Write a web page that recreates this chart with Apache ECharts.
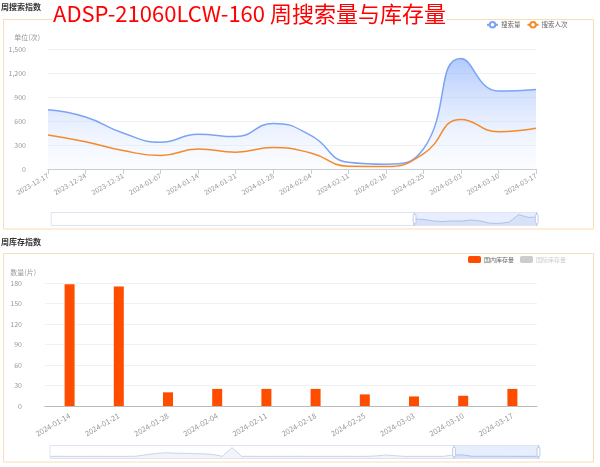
<!DOCTYPE html>
<html>
<head>
<meta charset="utf-8">
<title>ADSP-21060LCW-160 周搜索量与库存量</title>
<script src="https://cdn.jsdelivr.net/npm/echarts@6/dist/echarts.min.js"></script>
<style>
  html, body { margin: 0; padding: 0; background: #fff; }
  #main { width: 600px; height: 467px; }
</style>
</head>
<body>
<div id="main"></div>
<script>
// 周次（共52周，图上只显示最后一段）
var weeks = [
  '2023-03-26', '2023-04-02', '2023-04-09', '2023-04-16', '2023-04-23', '2023-04-30',
  '2023-05-07', '2023-05-14', '2023-05-21', '2023-05-28', '2023-06-04', '2023-06-11',
  '2023-06-18', '2023-06-25', '2023-07-02', '2023-07-09', '2023-07-16', '2023-07-23',
  '2023-07-30', '2023-08-06', '2023-08-13', '2023-08-20', '2023-08-27', '2023-09-03',
  '2023-09-10', '2023-09-17', '2023-09-24', '2023-10-01', '2023-10-08', '2023-10-15',
  '2023-10-22', '2023-10-29', '2023-11-05', '2023-11-12', '2023-11-19', '2023-11-26',
  '2023-12-03', '2023-12-10', '2023-12-17', '2023-12-24', '2023-12-31', '2024-01-07',
  '2024-01-14', '2024-01-21', '2024-01-28', '2024-02-04', '2024-02-11', '2024-02-18',
  '2024-02-25', '2024-03-03', '2024-03-10', '2024-03-17'
];

// 搜索量 / 搜索人次（2023-12-17 之前无数据）
var searchCount = [
  null, null, null, null, null, null, null, null, null, null, null, null, null,
  null, null, null, null, null, null, null, null, null, null, null, null, null,
  null, null, null, null, null, null, null, null, null, null, null, null,
  740, 650, 450, 335, 435, 405, 570, 420, 85, 60, 250, 1380, 975, 995
];
var searchUsers = [
  null, null, null, null, null, null, null, null, null, null, null, null, null,
  null, null, null, null, null, null, null, null, null, null, null, null, null,
  null, null, null, null, null, null, null, null, null, null, null, null,
  425, 340, 230, 170, 250, 210, 270, 200, 35, 30, 190, 620, 465, 508
];

// 国内库存量 / 国际库存量
var stockDomestic = [
  10, 12, 10, 8, 10, 12, 10, 9, 11, 30, 180, 330, 420, 380, 350, 320, 300, 220,
  20, 1000, 15, 12, 10, 11, 13, 10, 12, 10, 11, 12, 10, 13, 11, 12, 60, 170,
  80, 12, 10, 12, 10, 15,
  178, 175, 20, 25, 25, 25, 17, 14, 15, 25
];
var stockIntl = [];

var searchAxis = { min: 0, max: 1500, interval: 300 };
var stockAxis = { min: 0, max: 180, interval: 30 };

var FONT = "'Noto Sans CJK SC', 'Noto Sans', sans-serif";
var panelColor = '#fbdcb8';
var labelColor = '#999';

var myChart = echarts.init(document.getElementById('main'));

var option = {
    animation: false,
    backgroundColor: '#fff',
    textStyle: { fontFamily: FONT },
    graphic: [
        { type: 'rect', z: -1, shape: { x: 3.5, y: 19.5, width: 590, height: 209.5 },
          style: { fill: 'none', stroke: panelColor, lineWidth: 1 } },
        { type: 'rect', z: -1, shape: { x: 3.5, y: 253.5, width: 590, height: 208.5 },
          style: { fill: 'none', stroke: panelColor, lineWidth: 1 } }
    ],
    title: [
        { text: '周搜索指数', left: 1, top: 3, padding: 0,
          textStyle: { fontSize: 8, fontWeight: 'bold', color: '#333', fontFamily: FONT } },
        { text: '周库存指数', left: 1, top: 238, padding: 0,
          textStyle: { fontSize: 8, fontWeight: 'bold', color: '#333', fontFamily: FONT } },
        { text: 'ADSP-21060LCW-160 周搜索量与库存量', left: 52, top: 3, padding: [0, 1],
          backgroundColor: '#fff', z: 10,
          textStyle: { fontSize: 22, fontWeight: 'normal', color: '#ff0000', fontFamily: FONT } }
    ],
    legend: [
        {
            data: ['搜索量', '搜索人次'],
            left: 486, top: 21, padding: 0,
            itemWidth: 11, itemHeight: 7, itemGap: 6,
            textStyle: { fontSize: 6.5, color: '#666', padding: [0, 0, 0, -2] }
        },
        {
            data: ['国内库存量', '国际库存量'],
            left: 468, top: 256, padding: 0,
            itemWidth: 13, itemHeight: 7, itemGap: 6,
            selected: { '国际库存量': false },
            inactiveColor: '#ccc',
            textStyle: { fontSize: 6, color: '#666', padding: [0, 0, 0, -2] }
        }
    ],
    grid: [
        { left: 48, right: 64, top: 49, bottom: 298 },
        { left: 45, right: 63, top: 283, bottom: 61 }
    ],
    xAxis: [
        {
            type: 'category', gridIndex: 0, data: weeks, boundaryGap: false,
            axisLine: { lineStyle: { color: '#ccc' } },
            axisTick: { lineStyle: { color: '#ccc' } },
            axisLabel: { interval: 0, rotate: 30, fontSize: 7, color: labelColor, margin: 6 }
        },
        {
            type: 'category', gridIndex: 1, data: weeks,
            axisLine: { lineStyle: { color: '#bbb' } },
            axisTick: { lineStyle: { color: '#bbb' } },
            axisLabel: { interval: 0, rotate: 30, fontSize: 7.5, color: labelColor, margin: 9 }
        }
    ],
    yAxis: [
        {
            type: 'value', gridIndex: 0,
            min: searchAxis.min, max: searchAxis.max, interval: searchAxis.interval,
            name: '单位(次)', nameGap: 8,
            nameTextStyle: { fontSize: 7, color: labelColor, align: 'right', padding: [0, 8, 0, 0] },
            axisLine: { show: false }, axisTick: { show: false },
            axisLabel: { fontSize: 7, color: labelColor, margin: 22 },
            splitLine: { lineStyle: { color: '#f2f2f2' } }
        },
        {
            type: 'value', gridIndex: 1,
            min: stockAxis.min, max: stockAxis.max, interval: stockAxis.interval,
            name: '数量(片)', nameGap: 7,
            nameTextStyle: { fontSize: 7, color: labelColor, align: 'right', padding: [0, 9, 0, 0] },
            axisLine: { show: false }, axisTick: { show: false },
            axisLabel: { fontSize: 7, color: labelColor, margin: 23 },
            splitLine: { lineStyle: { color: '#f0f1f6' } }
        }
    ],
    dataZoom: [
        { type: 'slider', xAxisIndex: 0, startValue: 38, endValue: 51,
          left: 50, right: 63, top: 212, height: 14,
          showDetail: false, brushSelect: false },
        { type: 'slider', xAxisIndex: 1, startValue: 42, endValue: 51,
          left: 47, right: 63, top: 445, height: 14,
          showDetail: false, brushSelect: false }
    ],
    series: [
        {
            name: '搜索量', type: 'line', xAxisIndex: 0, yAxisIndex: 0,
            smooth: true, showSymbol: false, symbol: 'emptyCircle',
            itemStyle: { color: '#7ba4f6' },
            lineStyle: { color: '#7ba4f6', width: 1.5 },
            areaStyle: {
                color: new echarts.graphic.LinearGradient(0, 0, 0, 1, [
                    { offset: 0, color: 'rgba(118,160,250,0.8)' },
                    { offset: 1, color: 'rgba(235,242,255,0.25)' }
                ])
            },
            data: searchCount
        },
        {
            name: '搜索人次', type: 'line', xAxisIndex: 0, yAxisIndex: 0,
            smooth: true, showSymbol: false, symbol: 'emptyCircle',
            itemStyle: { color: '#f58a2a' },
            lineStyle: { color: '#f58a2a', width: 1.5 },
            data: searchUsers
        },
        {
            name: '国内库存量', type: 'bar', xAxisIndex: 1, yAxisIndex: 1,
            barWidth: 10,
            itemStyle: { color: '#ff4d00' },
            data: stockDomestic
        },
        {
            name: '国际库存量', type: 'bar', xAxisIndex: 1, yAxisIndex: 1,
            barWidth: 10,
            itemStyle: { color: '#ccc' },
            data: stockIntl
        }
    ]
};

myChart.setOption(option);

window.onresize = function () {
    myChart.resize();
};
</script>
</body>
</html>
